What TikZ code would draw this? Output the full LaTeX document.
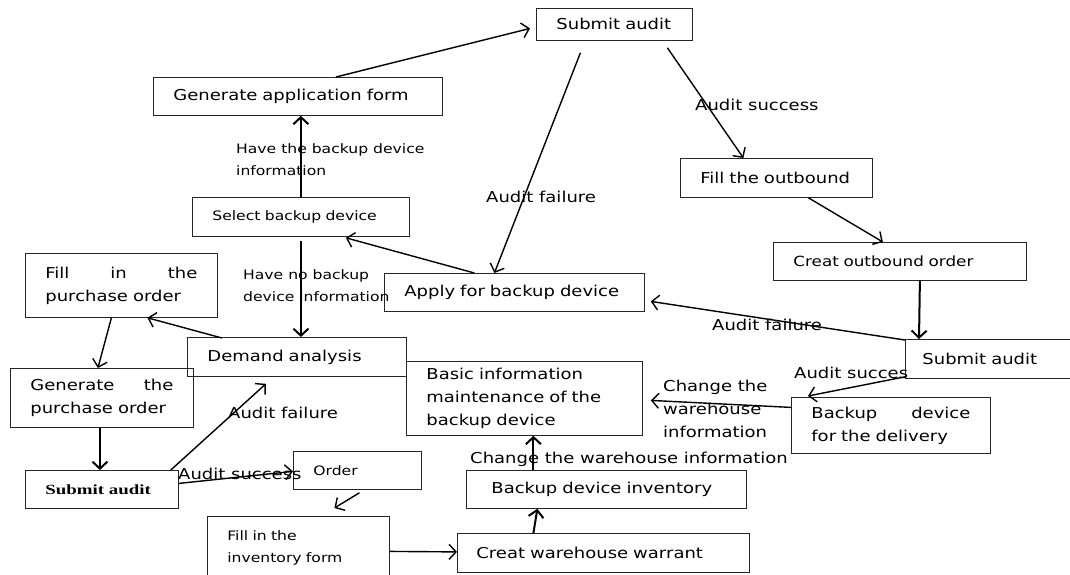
\documentclass[tikz,border=0pt]{standalone}
\usepackage{fontspec}
\setmainfont{DejaVu Sans}[FakeStretch=1.2]
\newfontfamily\boldserif{Liberation Serif}[FakeStretch=1.35]
\usetikzlibrary{arrows.meta,calc}

\begin{document}
\begin{tikzpicture}[x=1pt,y=-1pt,>={Straight Barb[length=7pt,width=15pt]},
                    box/.style={draw=black!85,line width=0.8pt,anchor=north west,inner xsep=20pt,inner ysep=0pt,
                      align=left,minimum height=38pt,font=\fontsize{15}{23}\selectfont},
                    small/.style={font=\fontsize{13}{22}\selectfont},
                    lbl/.style={anchor=west,inner sep=0pt,align=left,font=\fontsize{15}{23}\selectfont},
                    flow/.style={->,line width=1.4pt},
                    vflow/.style={->,line width=2pt}]

  \clip (0,0) rectangle (1070,574);

  % boxes
  \node[box,text width=116pt,minimum height=32pt] (subtop) at (536,8) {Submit audit};
  \node[box,text width=249pt] (genform) at (153,77) {Generate application form};
  \node[box,small,text width=177pt,minimum height=39pt] (select) at (192,197) {Select backup device};
  \node[box,text width=152pt,minimum height=39pt] (fillout) at (680,158) {Fill the outbound};
  \node[box,font=\fontsize{14}{22}\selectfont,text width=213pt] (creatout) at (773,242) {Creat outbound order};
  \node[box,text width=220pt] (apply) at (384,273) {Apply for backup device};
  \node[box,text width=152pt,minimum height=64pt] (fillpur) at (25,253) {Fill\hfill in\hfill the\\purchase order};
  \node[box,text width=179pt,minimum height=39pt] (demand) at (187,337) {Demand analysis};
  \node[box,text width=196pt,minimum height=74pt] (basic) at (406,361) {Basic information\\maintenance of the\\backup device};
  \node[box,inner xsep=17pt,text width=140pt,minimum height=39pt] (subright) at (905,339) {Submit audit};
  \node[box,text width=143pt,minimum height=59pt] (genpur) at (10,368) {Generate\hfill the\\purchase order};
  \node[box,text width=159pt,minimum height=56pt] (delivery) at (791,397) {Backup\hfill device\\for the delivery};
  \node[box,font=\boldserif\bfseries\fontsize{14}{20}\selectfont,text width=113pt] (subleft) at (25,470) {Submit audit};
  \node[box,small,text width=88pt] (order) at (293,451) {Order};
  \node[box,inner xsep=25pt,text width=230pt] (inventory) at (466,470) {Backup device inventory};
  \node[box,small,text width=142pt,minimum height=64pt] (fillinv) at (207,516) {Fill in the\\inventory form};
  \node[box,inner xsep=19pt,text width=254pt,minimum height=39pt] (warrant) at (457,533) {Creat warehouse warrant};

  % labels
  \node[lbl,small] (havelbl) at (236,160) {Have the backup device\\information};
  \node[lbl,small] (nolbl) at (243,286) {Have no backup\\device information};
  \node[lbl] (fail1) at (486,197) {Audit failure};
  \node[lbl] (succ1) at (695,105) {Audit success};
  \node[lbl] (fail2) at (712,325) {Audit failure};
  \node[lbl] (succ2) at (794,373) {Audit succes};
  \node[lbl] (change1) at (663,409) {Change the\\warehouse\\information};
  \node[lbl] (fail3) at (228,413) {Audit failure};
  \node[lbl] (succ3) at (178,474) {Audit success};
  \node[lbl] (change2) at (470,459) {Change the warehouse information};

  % connectors
  \path[flow]
    ($(genform.north)+(38,0)$) edge ($(subtop.west)+(-6,4)$)
    ($(subtop.south)+(-34,12)$) edge ($(apply.north)+(-20,0)$)
    ($(subtop.south)+(53,7)$) edge ($(fillout.north)+(-33,0)$)
    ($(fillout.south)+(32,0)$) edge ($(creatout.north)+(-17,0)$)
    ($(subright.north west)+(0,1)$) edge ($(apply.east)+(6,9)$)
    ($(subright.south west)+(0,-2)$) edge ($(delivery.north west)+(17,-1)$)
    ($(delivery.west)+(0,-18)$) edge ($(basic.east)+(8,2)$)
    ($(apply.north)+(-40,0)$) edge ($(select.south)+(45,1)$)
    ($(demand.north west)+(35,1)$) edge ($(fillpur.south)+(26,0)$)
    ($(fillpur.south)+(-10,0)$) edge ($(genpur.north)+(-4,0)$)
    ($(subleft.north east)+(-8,0)$) edge ($(demand.south)+(-31,7)$)
    ($(subleft.east)+(0,-6)$) edge ($(order.west)+(0,1)$)
    ($(order.south)+(2,3)$) edge ($(fillinv.north)+(36,-8)$)
    ($(fillinv.east)+(0,3)$) edge ($(warrant.west)+(0,-1)$);
  \path[vflow]
    (select.north) edge (select.north |- genform.south)
    ($(creatout.south)+(20,0)$) edge ($(subright.north west)+(14,0)$)
    ($(select.south)+(0,4)$) edge ($(demand.north)+(4,0)$)
    ($(genpur.south)+(-2,0)$) edge ($(subleft.north)+(-2,0)$)
    ($(warrant.north)+(-70,0)$) edge ($(inventory.south)+(-69,0)$)
    ($(inventory.north)+(-73,0)$) edge ($(basic.south)+(9,0)$);
\end{tikzpicture}
\end{document}
